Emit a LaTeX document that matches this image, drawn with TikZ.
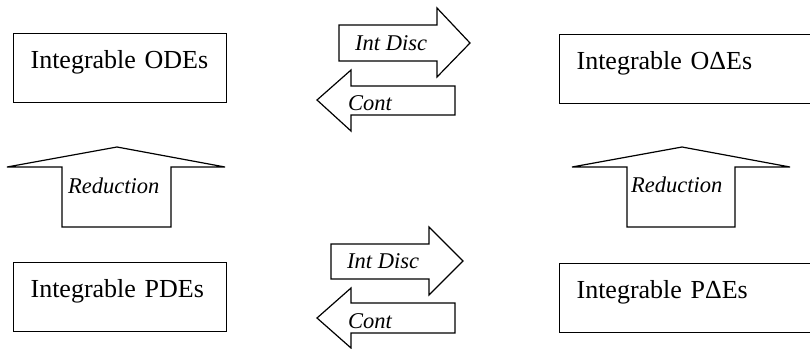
\documentclass[tikz,border=0pt]{standalone}
\usepackage{fontspec}
\setmainfont{Liberation Serif}
\begin{document}
\begin{tikzpicture}[x=1pt,y=-1pt,
  eqbox/.style={draw, line width=1.2pt, anchor=north west, align=left,
    font=\fontsize{26}{30}\selectfont, inner xsep=17pt, inner ysep=17pt,
    text height=18pt, text depth=17pt},
  blockarrow/.style={draw, line width=1.2pt, line join=miter},
  arrowtext/.style={anchor=base west, inner sep=0pt,
    font=\fontsize{22.5}{27}\selectfont\itshape}]
\useasboundingbox (0,0) rectangle (810,348);
\clip (0,0) rectangle (810,348);

% the four classes of equations
\node[eqbox, text width=179pt] (ode)    at (13,33)  {Integrable ODEs};
\node[eqbox, text width=262pt] (odelta) at (559,34) {Integrable OΔEs};
\node[eqbox, text width=179pt] (pde)    at (13,262) {Integrable PDEs};
\node[eqbox, text width=262pt] (pdelta) at (559,263) {Integrable PΔEs};

% upper pair: integrable discretisation and continuum limit
\draw[blockarrow] (339,25) -- (437,25) -- (437,8) -- (470,43) -- (437,77)
  -- (437,61) -- (339,61) -- cycle;
\node[arrowtext] (disctop) at (355,50) {Int Disc};
\draw[blockarrow] (455,86) -- (351,86) -- (351,70) -- (317,100) -- (351,131)
  -- (351,115) -- (455,115) -- cycle;
\node[arrowtext] (conttop) at (348,110) {Cont};

% lower pair
\draw[blockarrow] (331,244) -- (429,244) -- (429,227) -- (463,261) -- (429,295)
  -- (429,279) -- (331,279) -- cycle;
\node[arrowtext] (discbot) at (347,268) {Int Disc};
\draw[blockarrow] (455,303) -- (351,303) -- (351,288) -- (317,318) -- (351,348)
  -- (351,333) -- (455,333) -- cycle;
\node[arrowtext] (contbot) at (348,328) {Cont};

% reductions from partial to ordinary equations
\draw[blockarrow] (62,227) -- (62,167) -- (7,167) -- (117,147) -- (225,167)
  -- (171,167) -- (171,227) -- cycle;
\node[arrowtext] (redleft) at (68,193) {Reduction};
\draw[blockarrow] (627,227) -- (627,167) -- (572,167) -- (682,147) -- (790,167)
  -- (735,167) -- (735,227) -- cycle;
\node[arrowtext] (redright) at (631,192) {Reduction};
\end{tikzpicture}
\end{document}
